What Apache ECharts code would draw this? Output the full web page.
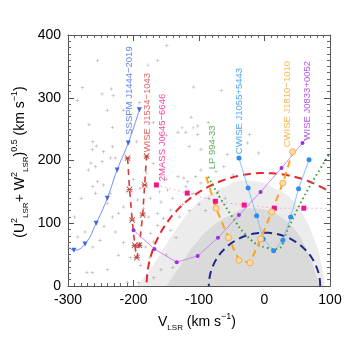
<!DOCTYPE html>
<html>
<head>
<meta charset="utf-8">
<script src="https://cdn.jsdelivr.net/npm/echarts@6/dist/echarts.min.js"></script>
<style>
  html, body { margin: 0; padding: 0; background: #fff; }
  #chart { width: 358px; height: 358px; }
</style>
</head>
<body>
<div id="chart"></div>
<script>
// axis ticks
const xTicks = [-300, 100, 100];
const yTicks = [0, 400, 100];

// velocity circles (km/s)
const circleRadii = [180, 85];
const circleColors = ["#e8262b", "#1c2a8c"];

// diffuse cloud of field stars: outer and inner outline tops
const cloudOuter = [[-195, 0], [-175, 25], [-155, 58], [-135, 90], [-112, 122], [-90, 142], [-60, 158], [-35, 168], [-10, 166], [15, 156], [40, 140], [58, 115], [74, 80], [86, 40], [92, 0]];
const cloudInner = [[-150, 0], [-130, 30], [-105, 68], [-80, 95], [-50, 114], [-25, 124], [0, 122], [25, 110], [48, 88], [65, 55], [78, 20], [84, 0]];

// sparse halo stars
const halo = [
  [-149, 383], [-163, 359], [-255, 359], [-178, 352], [-278, 316], [-234, 314], [-248, 306], [-231, 303],
  [-108, 317], [-286, 296], [-191, 292], [-268, 257], [-132, 245], [-126, 252], [-232, 253], [-262, 230],
  [-257, 223], [-263, 217], [-232, 222], [-246, 214], [-235, 204], [-265, 196], [-258, 190], [-109, 252],
  [-66, 311], [-112, 269], [-23, 241], [-26, 228], [-9, 212], [-115, 222], [-102, 241], [-86, 260],
  [-102, 255], [-120, 245], [-97, 218], [-57, 209], [-248, 198], [-228, 204], [-269, 185], [-255, 166],
  [-262, 158], [-246, 161], [-258, 148], [-235, 148], [-240, 132], [-232, 110], [-223, 116], [-215, 126],
  [-194, 137], [-174, 140], [-158, 134], [-148, 153], [-132, 174], [-117, 166], [-97, 164], [-109, 148],
  [-185, 124], [-177, 110], [-163, 116], [-154, 108], [-143, 121], [-163, 97], [-174, 84], [-143, 89],
  [-135, 77], [-182, 62], [-169, 70], [-228, 86], [-215, 69], [-251, 73], [-274, 86], [-285, 78],
  [-262, 62], [-223, 49], [-240, 26], [-271, 22], [-263, 21], [-189, 33], [-158, 26], [-169, 13],
  [-209, 6], [-192, 5], [-297, 41], [-123, 172], [-105, 174], [-97, 185], [-120, 158], [-74, 182],
  [-62, 190], [-48, 177], [-180, 180], [-200, 170], [-150, 170], [-140, 140], [-125, 130], [-190, 155],
  [-170, 195], [-210, 150], [-160, 150], [-130, 110], [-115, 120], [-100, 130], [-85, 140], [-90, 120],
  [-70, 150], [-60, 140], [-150, 240], [-170, 260], [-195, 230], [-215, 280], [-240, 280], [-280, 140],
  [-290, 110], [-245, 95], [-205, 45], [-175, 45], [-150, 50], [-140, 30]
];

// objects
const ssspm = [[-300, 63], [-291, 57], [-274, 67], [-257, 100], [-240, 140], [-225, 185], [-208, 228], [-191, 281]];
const wise1534 = [[-209, 204], [-206, 154], [-202, 105], [-198, 65], [-195, 45], [-191, 65], [-186, 113], [-183, 161], [-180, 207]];
const mass0645 = [[-165, 161], [-118, 148], [-75, 135], [-31, 129], [15, 124], [60, 124], [110, 124]];
const lp994 = [[-86, 174], [-51, 113], [-20, 73], [3, 61], [18, 59], [37, 94], [52, 126], [72, 164], [103, 217]];
const cwise1055 = [[-39, 204], [-25, 156], [-12, 112], [-2, 75], [14, 56], [28, 73], [40, 110], [52, 155], [68, 201]];
const cwise1810 = [[-89, 174], [-74, 124], [-55, 77], [-39, 41], [-22, 37], [-6, 75], [11, 118], [28, 164], [43, 214]];
const wise0833 = [[-200, 89], [-168, 59], [-134, 38], [-102, 48], [-71, 77], [-39, 113], [-6, 150], [26, 188], [58, 228], [64, 236]];

// label anchors (bottom end of rotated names)
const names = ["SSSPM J1444\u22122019", "WISE J1534\u22121043", "2MASS J0645\u22126646", "LP 994-33", "CWISE J1055+5443", "CWISE J1810\u22121010", "WISE J0833+0052"];
const nameAnchors = [[-207, 241], [-179, 213], [-156, 167], [-80, 186], [-39, 210], [35, 221], [66, 232]];
const nameColors = ["#3d66e6", "#d8403c", "#f0158a", "#3b9a3b", "#2b8df0", "#ffa21c", "#9b2fe0"];

const FONT = "Liberation Sans, Arial, Helvetica, sans-serif";
const plusPath = "path://M0,4.3L10,4.3L10,5.7L0,5.7ZM4.3,0L5.7,0L5.7,10L4.3,10Z";
const starPath = "path://M0,1L1,0L10,9L9,10ZM9,0L10,1L1,10L0,9ZM0,4.3L10,4.3L10,5.7L0,5.7Z";

const chart = echarts.init(document.getElementById("chart"));

function makeAxis(min, max, interval, position, showLabel) {
  return {
    type: "value",
    min: min,
    max: max,
    interval: interval,
    position: position,
    axisLine: { show: true, onZero: false, lineStyle: { color: "#555", width: 1 } },
    axisTick: { show: true, inside: true, length: 6, lineStyle: { color: "#555" } },
    minorTick: { show: true, splitNumber: 10, length: 3, lineStyle: { color: "#666" } },
    splitLine: { show: false },
    axisLabel: { show: showLabel, color: "#000", fontSize: 14, fontFamily: FONT, margin: 7 },
  };
}

function circleSeries(i) {
  return {
    type: "custom",
    xAxisIndex: 0,
    yAxisIndex: 0,
    clip: true,
    z: 4,
    data: [[circleRadii[i]]],
    renderItem: function (params, api) {
      const r = api.value(0);
      const pts = [];
      for (let a = 0; a <= 180; a += 2) {
        const t = (a * Math.PI) / 180;
        pts.push(api.coord([r * Math.cos(t), r * Math.sin(t)]));
      }
      return {
        type: "polyline",
        shape: { points: pts },
        style: { stroke: circleColors[i], lineWidth: 2, lineDash: [8, 5], fill: null },
      };
    },
  };
}

function lineSeries(data, opts) {
  return Object.assign(
    {
      type: "line",
      data: data,
      clip: true,
      z: 6,
      animation: false,
      showAllSymbol: true,
    },
    opts
  );
}

// hide the marker on the given point indexes (line ends only)
function noMark(data, idx) {
  return data.map((p, i) => (idx.includes(i) ? { value: p, symbol: "none" } : p));
}

const richAxis = {
  p: { fontSize: 14, fontFamily: FONT, lineHeight: 20, verticalAlign: "middle" },
  sup: { fontSize: 9, fontFamily: FONT, lineHeight: 20, verticalAlign: "top" },
  sub: { fontSize: 8, fontFamily: FONT, lineHeight: 20, verticalAlign: "bottom" },
};

const option = {
  animation: false,
  backgroundColor: "#fff",
  grid: { left: 68, right: 28, top: 35, bottom: 72 },
  xAxis: [makeAxis(xTicks[0], xTicks[1], xTicks[2], "bottom", true), makeAxis(xTicks[0], xTicks[1], xTicks[2], "top", false)],
  yAxis: [makeAxis(yTicks[0], yTicks[1], yTicks[2], "left", true), makeAxis(yTicks[0], yTicks[1], yTicks[2], "right", false)],
  graphic: [
    {
      type: "text",
      x: 20,
      y: 162,
      rotation: Math.PI / 2,
      style: {
        text: "{p|(U}{sup|2}{sub|LSR}{p|+ W}{sup|2}{sub|LSR}{p|)}{sup|0.5}{p| (km s}{sup|\u22121}{p|)}",
        align: "center",
        verticalAlign: "middle",
        fill: "#000",
        rich: richAxis,
      },
    },
    {
      type: "text",
      x: 197,
      y: 322,
      style: {
        text: "{p|V}{sub|LSR}{p| (km s}{sup|\u22121}{p|)}",
        align: "center",
        verticalAlign: "middle",
        fill: "#000",
        rich: richAxis,
      },
    },
  ],
  series: [
    {
      type: "line",
      data: cloudOuter,
      smooth: true,
      symbol: "none",
      clip: true,
      z: 1,
      lineStyle: { width: 0 },
      areaStyle: { color: "#ececec", opacity: 1 },
    },
    {
      type: "line",
      data: cloudInner,
      smooth: true,
      symbol: "none",
      clip: true,
      z: 1,
      lineStyle: { width: 0 },
      areaStyle: { color: "#dadada", opacity: 1 },
    },
    {
      type: "scatter",
      data: halo,
      symbol: plusPath,
      symbolSize: 3.5,
      z: 2,
      itemStyle: { color: "#8f8f8f" },
    },
    circleSeries(0),
    circleSeries(1),
    lineSeries(noMark(ssspm, [0]), {
      smooth: true,
      symbol: "triangle",
      symbolRotate: 180,
      symbolSize: 5,
      lineStyle: { color: "#6f90f0", width: 1 },
      itemStyle: { color: "#3d66e6" },
    }),
    lineSeries(wise1534, {
      symbol: starPath,
      symbolSize: 6,
      lineStyle: { color: "#d63a3a", width: 1.6, type: [6, 5] },
      itemStyle: { color: "#b8403a" },
    }),
    lineSeries(noMark(mass0645, [6]), {
      symbol: "rect",
      symbolSize: 5,
      lineStyle: { color: "#ff9ccf", width: 1, type: [1.5, 3] },
      itemStyle: { color: "#f0158a" },
    }),
    lineSeries(lp994, {
      smooth: true,
      symbol: "none",
      lineStyle: { color: "#3b9a3b", width: 2, type: [1.5, 3] },
    }),
    lineSeries(cwise1055, {
      symbol: "circle",
      symbolSize: 5,
      lineStyle: { color: "#8cc0f5", width: 1 },
      itemStyle: { color: "#2b8df0" },
    }),
    lineSeries(noMark(cwise1810, [0]), {
      symbol: "circle",
      symbolSize: 6,
      lineStyle: { color: "#ffa21c", width: 2, type: [7, 5] },
      itemStyle: { color: "#ffdcaa", borderColor: "#f5b050", borderWidth: 1 },
    }),
    lineSeries(noMark(wise0833, [9]), {
      symbol: "circle",
      symbolSize: 4,
      lineStyle: { color: "#c58af0", width: 1 },
      itemStyle: { color: "#9b2fe0" },
    }),
    {
      type: "scatter",
      z: 8,
      symbolSize: 0,
      data: nameAnchors.map((p, i) => ({
        value: p,
        label: {
          show: true,
          formatter: names[i],
          color: nameColors[i],
        },
      })),
      label: {
        show: true,
        position: [0, 0],
        rotate: 90,
        align: "left",
        verticalAlign: "middle",
        fontSize: 9.5,
        fontFamily: FONT,
      },
    },
  ],
};

chart.setOption(option);
</script>
</body>
</html>
